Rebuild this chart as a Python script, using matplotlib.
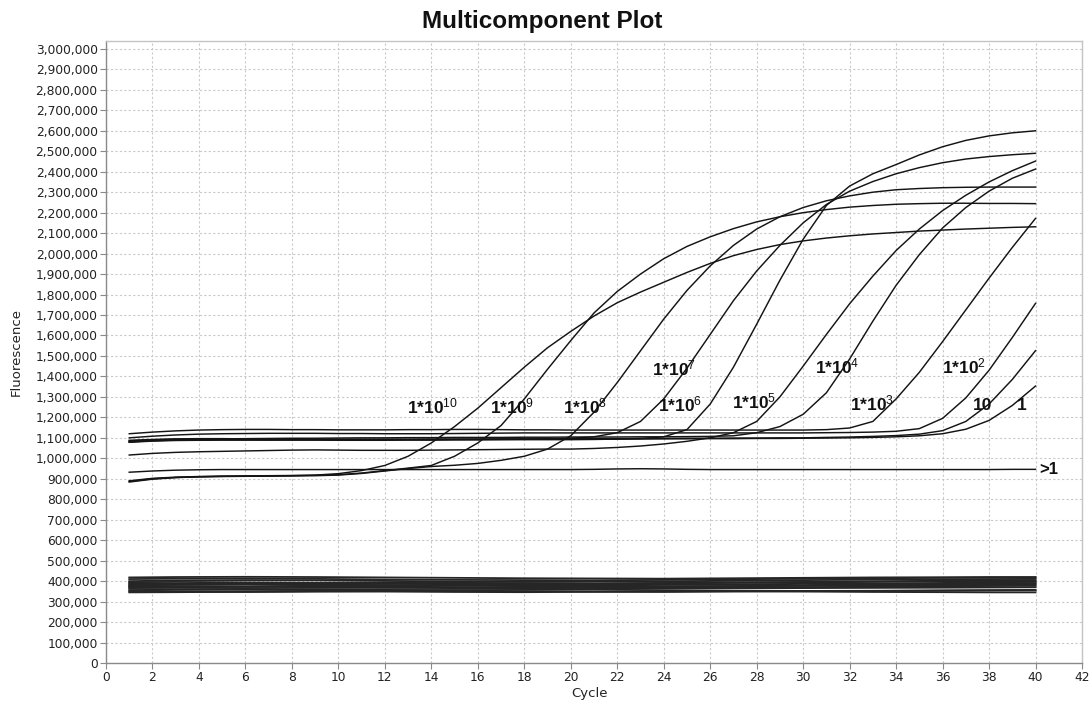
import matplotlib
matplotlib.use('Agg')
import matplotlib.pyplot as plt
from matplotlib.ticker import MultipleLocator, FuncFormatter

# ---------------- data (fluorescence in thousands) ----------------
CYCLES = list(range(1, 41))

E10 = [884, 898, 906, 910, 912, 913, 914, 915, 918, 925, 940, 965, 1010, 1075, 1155, 1245, 1345, 1445, 1540, 1620,
       1695, 1760, 1812, 1860, 1908, 1952, 1990, 2020, 2044, 2062, 2076, 2087, 2096, 2103, 2110, 2115, 2120, 2124, 2128, 2131]
E9 = [890, 902, 908, 911, 913, 914, 915, 916, 917, 920, 928, 940, 952, 965, 1010, 1075, 1160, 1290, 1435, 1575,
      1710, 1815, 1900, 1975, 2035, 2082, 2122, 2155, 2180, 2200, 2215, 2227, 2235, 2241, 2244, 2246, 2246, 2245, 2245, 2244]
E8 = [887, 900, 906, 909, 911, 912, 913, 914, 915, 918, 926, 938, 950, 960, 966, 975, 990, 1010, 1045, 1110,
      1225, 1370, 1525, 1680, 1820, 1940, 2040, 2120, 2180, 2225, 2258, 2282, 2300, 2312, 2318, 2322, 2324, 2325, 2325, 2325]
E7 = [1088, 1092, 1095, 1096, 1096, 1095, 1094, 1094, 1093, 1093, 1092, 1092, 1092, 1092, 1092, 1093, 1093, 1094, 1095, 1098,
      1105, 1125, 1180, 1290, 1440, 1605, 1770, 1915, 2040, 2150, 2240, 2305, 2352, 2390, 2420, 2444, 2462, 2474, 2483, 2490]
E6 = [1082, 1087, 1089, 1090, 1091, 1091, 1090, 1089, 1089, 1088, 1088, 1088, 1089, 1089, 1090, 1090, 1091, 1091, 1091, 1091,
      1092, 1094, 1097, 1105, 1140, 1265, 1445, 1655, 1870, 2070, 2235, 2330, 2390, 2435, 2482, 2522, 2553, 2575, 2590, 2600]
E5 = [1016, 1024, 1029, 1032, 1034, 1036, 1038, 1040, 1041, 1040, 1039, 1039, 1039, 1040, 1041, 1042, 1043, 1044, 1045, 1045,
      1048, 1053, 1060, 1070, 1083, 1100, 1125, 1180, 1300, 1450, 1605, 1755, 1890, 2015, 2120, 2210, 2285, 2350, 2405, 2452]
E4 = [1085, 1090, 1093, 1094, 1095, 1096, 1097, 1098, 1098, 1099, 1100, 1100, 1101, 1101, 1102, 1102, 1102, 1103, 1103, 1104,
      1104, 1104, 1105, 1105, 1106, 1107, 1110, 1125, 1155, 1215, 1320, 1485, 1670, 1845, 1995, 2125, 2225, 2305, 2368, 2413]
E3 = [1120, 1128, 1134, 1138, 1140, 1141, 1141, 1140, 1140, 1139, 1139, 1139, 1140, 1140, 1141, 1141, 1140, 1139, 1139, 1138,
      1138, 1138, 1138, 1138, 1138, 1138, 1138, 1138, 1138, 1138, 1140, 1148, 1180, 1290, 1420, 1570, 1725, 1880, 2030, 2172]
E2 = [1100, 1108, 1114, 1118, 1120, 1121, 1122, 1122, 1122, 1121, 1121, 1120, 1120, 1120, 1121, 1122, 1123, 1124, 1124, 1124,
      1124, 1124, 1124, 1124, 1124, 1124, 1124, 1124, 1124, 1124, 1125, 1126, 1128, 1132, 1145, 1195, 1295, 1430, 1590, 1757]
E1 = [1080, 1086, 1089, 1090, 1091, 1091, 1091, 1092, 1092, 1092, 1093, 1093, 1093, 1094, 1094, 1094, 1095, 1095, 1095, 1096,
      1096, 1096, 1097, 1097, 1098, 1098, 1099, 1099, 1100, 1100, 1102, 1104, 1107, 1111, 1118, 1135, 1180, 1265, 1385, 1526]
E0 = [1078, 1084, 1087, 1088, 1089, 1089, 1089, 1090, 1090, 1090, 1090, 1091, 1091, 1091, 1092, 1092, 1092, 1093, 1093, 1093,
      1094, 1094, 1094, 1095, 1095, 1096, 1096, 1097, 1097, 1098, 1099, 1100, 1102, 1105, 1110, 1120, 1142, 1185, 1258, 1353]
NEG = [932, 938, 942, 944, 945, 945, 945, 945, 945, 945, 945, 945, 945, 945, 945, 945, 945, 945, 945, 945,
       946, 948, 949, 948, 946, 945, 945, 945, 945, 945, 945, 945, 945, 945, 945, 945, 945, 945, 946, 946]

CURVES = [E10, E9, E8, E7, E6, E5, E4, E3, E2, E1, E0]
CURVE_LABELS = ['1*10$^{10}$', '1*10$^{9}$', '1*10$^{8}$', '1*10$^{7}$', '1*10$^{6}$', '1*10$^{5}$',
                '1*10$^{4}$', '1*10$^{3}$', '1*10$^{2}$', '10', '1']
NEG_LABEL = '>1'

# passive-reference band (thousands), sampled cycles
BAND_CYCLES = [1, 3, 6, 9, 12, 15, 18, 21, 24, 27, 30, 33, 36, 38, 40]
BAND = [
    [418, 420, 421, 420, 418, 416, 414, 413, 412, 414, 416, 418, 419, 420, 420],
    [410, 412, 413, 411, 408, 406, 405, 404, 406, 409, 412, 414, 416, 417, 418],
    [400, 403, 405, 404, 401, 398, 396, 397, 399, 402, 405, 407, 409, 410, 411],
    [395, 396, 394, 392, 393, 395, 397, 398, 396, 394, 396, 399, 402, 404, 405],
    [390, 388, 386, 388, 391, 390, 388, 387, 389, 392, 394, 396, 398, 399, 400],
    [385, 386, 389, 391, 388, 385, 384, 386, 390, 392, 390, 388, 391, 394, 396],
    [380, 382, 384, 383, 381, 380, 382, 384, 385, 383, 381, 383, 386, 388, 390],
    [377, 376, 375, 377, 379, 381, 380, 378, 376, 375, 377, 380, 383, 385, 386],
    [372, 371, 372, 374, 373, 371, 370, 372, 374, 376, 378, 379, 380, 381, 382],
    [368, 367, 366, 367, 369, 370, 372, 371, 369, 368, 370, 373, 375, 376, 377],
    [362, 360, 359, 360, 361, 362, 363, 364, 365, 366, 366, 367, 368, 369, 370],
    [355, 357, 358, 356, 354, 355, 357, 358, 356, 354, 352, 353, 355, 356, 357],
    [350, 348, 347, 349, 351, 352, 350, 348, 347, 349, 351, 352, 353, 354, 355],
    [345, 346, 348, 350, 349, 347, 346, 348, 350, 351, 349, 347, 346, 345, 345],
]

# label anchor positions (cycle, thousands) for the annotations
LABEL_X = [12.95, 16.52, 19.67, 23.49, 23.75, 26.94, 30.5, 32.0, 35.97, 37.3, 39.2]
LABEL_Y = [1221, 1221, 1221, 1407, 1231, 1246, 1417, 1236, 1417, 1236, 1236]
NEG_LABEL_POS = (40.15, 945)

# ---------------- figure ----------------
plt.rcParams['mathtext.fontset'] = 'custom'
plt.rcParams['mathtext.rm'] = 'Liberation Sans'
plt.rcParams['mathtext.it'] = 'Liberation Sans'
plt.rcParams['mathtext.bf'] = 'Liberation Sans:bold'

W, H = 1089, 702
fig = plt.figure(figsize=(W / 100, H / 100), dpi=100)
L, R, T, B = 106, 1082, 41, 663
ax = fig.add_axes([L / W, 1 - B / H, (R - L) / W, (B - T) / H])

K = 1000.0
line_kw = dict(color='#141414', lw=1.05, solid_joinstyle='round', zorder=3)

for band_line in BAND:
    ax.plot(BAND_CYCLES, [v * K for v in band_line], color='#262626', lw=1.3, zorder=3)

ax.plot(CYCLES, [v * K for v in NEG], **line_kw)
for curve in CURVES:
    ax.plot(CYCLES, [v * K for v in curve], **line_kw)

for lab, lx, ly in zip(CURVE_LABELS, LABEL_X, LABEL_Y):
    ax.text(lx, ly * K, lab, ha='left', va='baseline', fontsize=12.5, fontweight='bold',
            family='Liberation Sans', color='#111111', zorder=4)
ax.text(NEG_LABEL_POS[0], NEG_LABEL_POS[1] * K, NEG_LABEL, ha='left', va='center', fontsize=12,
        fontweight='bold', family='Liberation Sans', color='#111111', zorder=4)

ax.set_xlim(0, 42)
ax.set_ylim(0, 3.0386e6)
ax.xaxis.set_major_locator(MultipleLocator(2))
ax.yaxis.set_major_locator(MultipleLocator(100000))
ax.yaxis.set_major_formatter(FuncFormatter(lambda v, p: f'{v:,.0f}'))

ax.grid(True, color='#c9c9c9', linestyle=(0, (2, 2)), linewidth=0.8, zorder=0)
ax.set_axisbelow(True)

for s in ['left', 'bottom']:
    ax.spines[s].set_color('#8a8a8a')
    ax.spines[s].set_linewidth(1.0)
for s in ['top', 'right']:
    ax.spines[s].set_color('#c4c4c4')
    ax.spines[s].set_linewidth(1.0)

ax.tick_params(axis='both', direction='out', length=4, width=0.8, color='#8a8a8a',
               labelsize=8.8, labelcolor='#222222', pad=2)
for lbl in ax.get_xticklabels() + ax.get_yticklabels():
    lbl.set_family('DejaVu Sans')

fig.text(541.7 / W, 1 - 28 / H, 'Multicomponent Plot', ha='center', va='baseline',
         fontsize=17.5, fontweight='bold', family='Liberation Sans', color='#111111')
fig.text(16 / W, 1 - 352 / H, 'Fluorescence', rotation=90, ha='center', va='center',
         fontsize=9.5, family='DejaVu Sans', color='#222222')
fig.text(590 / W, 1 - 693 / H, 'Cycle', ha='center', va='center',
         fontsize=9.5, family='DejaVu Sans', color='#222222')

fig.savefig('out.png', dpi=100, facecolor='white')
